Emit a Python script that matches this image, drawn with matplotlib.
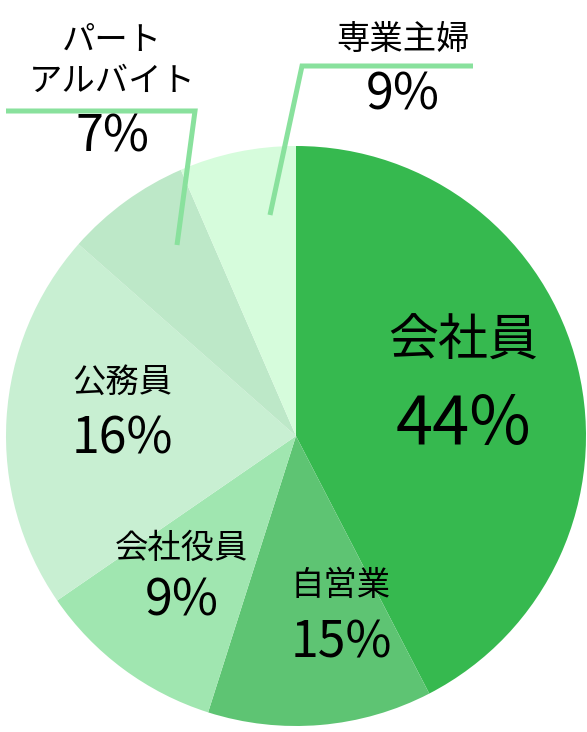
import matplotlib
matplotlib.use("Agg")
import matplotlib.pyplot as plt

plt.rcParams["font.family"] = ["Noto Sans CJK JP", "DejaVu Sans"]

# slice shares as drawn (measured from the wedge angles), clockwise from 12 o'clock
categories = ["会社員", "自営業", "会社役員", "公務員", "パート\nアルバイト", "専業主婦"]
shares = [42.4, 12.5, 10.5, 21.1, 7.0, 6.5]
pct_labels = ["44%", "15%", "9%", "16%", "7%", "9%"]
colors = ["#36b94f", "#5ec473", "#a0e6b0", "#c8efd2", "#bde8c8", "#d6fcdc"]

W, H = 587, 732
fig = plt.figure(figsize=(W / 100, H / 100), dpi=100)
ax = fig.add_axes([0, 0, 1, 1])

cx, cy, r = 296, H - 436, 290
ax.pie(shares, colors=colors, startangle=90, counterclock=False,
       center=(cx, cy), radius=r, frame=True,
       wedgeprops=dict(linewidth=0))
ax.set_xlim(0, W)
ax.set_ylim(0, H)
ax.set_aspect("equal")
ax.axis("off")

line_col = "#89e19d"


def y(v):
    return H - v


# leader lines for the two small slices
ax.plot([270, 302, 473], [y(215), y(66), y(66)], color=line_col, lw=3.6,
        solid_capstyle="butt", solid_joinstyle="miter")
ax.plot([177, 195, 6], [y(245), y(111), y(111)], color=line_col, lw=3.6,
        solid_capstyle="butt", solid_joinstyle="miter")

# labels: (name pos, pct pos, name size, pct size)
label_pos = [
    ((463, 342), (463, 425), 36, 48),
    ((341, 585), (341, 643), 24, 36),
    ((182, 548), (182, 602), 24, 36),
    ((122, 382), (122, 440), 24, 36),
    ((112, 61), (112, 138), 24, 36),
    ((403, 40), (403, 96), 24, 36),
]
for name, pct, (npos, ppos, ns, ps) in zip(categories, pct_labels, label_pos):
    ax.text(npos[0], y(npos[1]), name, ha="center", va="center", fontsize=ns,
            linespacing=1.22, color="black")
    ax.text(ppos[0], y(ppos[1]), pct, ha="center", va="center", fontsize=ps, color="black")

fig.savefig("out.png", dpi=100)
